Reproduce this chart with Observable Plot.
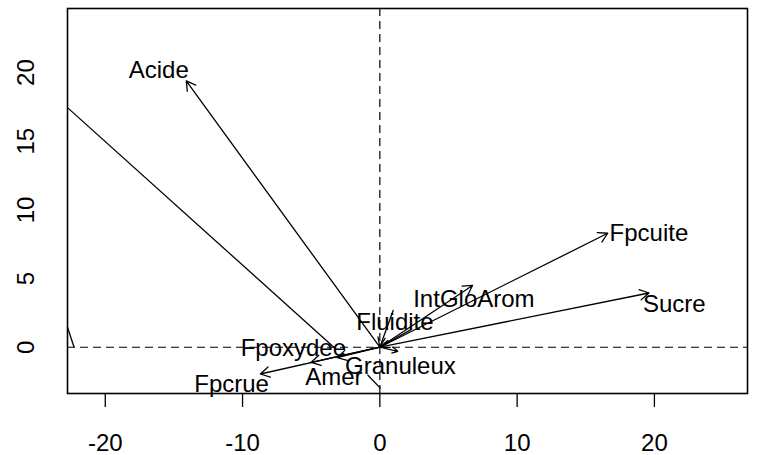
<!DOCTYPE html>
<html>
<head>
<meta charset="utf-8">
<script src="https://cdn.jsdelivr.net/npm/d3@7"></script>
<script src="https://cdn.jsdelivr.net/npm/@observablehq/plot@0.6"></script>
<style>
  html, body { margin: 0; padding: 0; background: #ffffff; }
</style>
</head>
<body>
<div id="chart"></div>
<script>
// Variable vectors (arrows drawn from the origin to each tip)
const arrowNames = ["Acide", "Fpcuite", "Sucre", "IntGloArom", "Granuleux", "Fpcrue", "Amer", "Fpoxydee"];
const arrowX = [-14.1, 16.6, 19.6, 6.75, 1.3, -8.7, -5.0, -3.1];
const arrowY = [19.4, 8.3, 3.95, 4.5, -0.3, -1.95, -1.1, -0.75];

// Short vectors whose heads sit on the origin
const inwardX = [0.97, 2.3];
const inwardY = [2.68, 1.3];

// Plain segments without heads
const segX1 = [-22.75, -22.75, -0.9];
const segY1 = [17.45, 1.46, -2.0];
const segX2 = [-3.35, -22.27, 0.05];
const segY2 = [0.0, 0.0, -3.0];

// Variable labels
const labelNames = ["Acide", "Fpcuite", "Sucre", "IntGloArom", "Fluidite", "Granuleux", "Fpoxydee", "Amer", "Fpcrue"];
const labelX = [-16.1, 19.6, 21.45, 6.85, 1.1, 1.5, -6.3, -3.35, -10.8];
const labelY = [20.15, 8.3, 3.16, 3.47, 1.82, -1.4, -0.1, -2.2, -2.67];

// Axis ticks
const xTicks = [-20, -10, 0, 10, 20];
const yTicks = [0, 5, 10, 15, 20];

const arrows = arrowNames.map((n, i) => ({name: n, x: arrowX[i], y: arrowY[i]}));
const inward = inwardX.map((x, i) => ({x, y: inwardY[i]}));
const segs = segX1.map((x1, i) => ({x1, y1: segY1[i], x2: segX2[i], y2: segY2[i]}));
const labels = labelNames.map((n, i) => ({name: n, x: labelX[i], y: labelY[i]}));

// plain hyphen-minus for negative tick labels
const fmt = d => String(d);

const chart = Plot.plot({
  width: 782,
  height: 455,
  marginLeft: 67,
  marginRight: 35,
  marginTop: 8,
  marginBottom: 62,
  style: {fontFamily: "'Liberation Sans', Arial, Helvetica, sans-serif", fontSize: "24px", background: "#ffffff", color: "#000000"},
  x: {domain: [-22.75, 26.78], label: null},
  y: {domain: [-3.37, 24.67], label: null},
  marks: [
    // reference axes through the origin
    Plot.ruleX([0], {stroke: "#000", strokeWidth: 1.2, strokeDasharray: "8,5"}),
    Plot.ruleY([0], {stroke: "#000", strokeWidth: 1.2, strokeDasharray: "8,5"}),
    Plot.link(segs, {x1: "x1", y1: "y1", x2: "x2", y2: "y2", stroke: "#000", strokeWidth: 1.3}),
    Plot.arrow(arrows, {x1: 0, y1: 0, x2: "x", y2: "y", stroke: "#000", strokeWidth: 1.3, headLength: 12, headAngle: 60, insetEnd: 0}),
    Plot.arrow(inward, {x1: "x", y1: "y", x2: 0, y2: 0, stroke: "#000", strokeWidth: 1.3, headLength: 12, headAngle: 60, insetEnd: 0}),
    Plot.text(labels, {x: "x", y: "y", text: "name", fontSize: 24, fill: "#000", textAnchor: "middle", lineAnchor: "middle"}),
    Plot.axisX({ticks: xTicks, tickFormat: fmt, tickSize: 14, tickPadding: 26, fontSize: 24, label: null, stroke: "#000", strokeWidth: 1.3}),
    Plot.axisY({ticks: yTicks, tickFormat: fmt, tickSize: 0, tickPadding: 41, fontSize: 24, label: null, rotate: -90, textAnchor: "middle", lineAnchor: "middle"}),
    Plot.frame({stroke: "#000", strokeWidth: 1.6})
  ]
});

document.getElementById("chart").appendChild(chart);
</script>
</body>
</html>
